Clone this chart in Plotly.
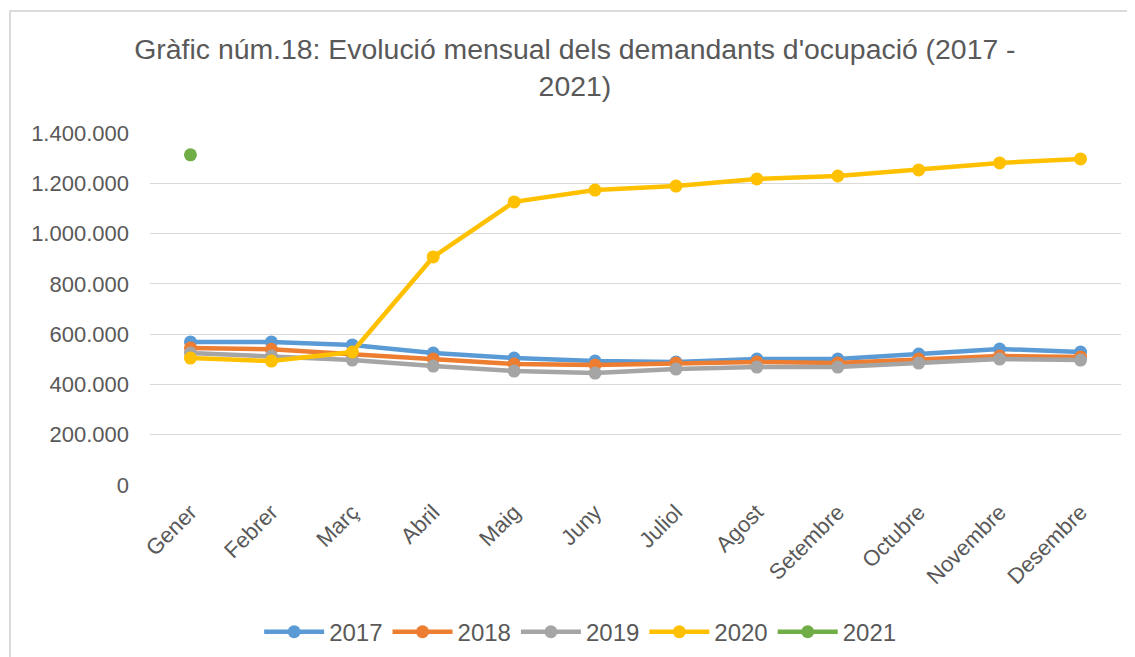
import plotly.graph_objects as go

months = ["Gener", "Febrer", "Març", "Abril", "Maig", "Juny", "Juliol",
          "Agost", "Setembre", "Octubre", "Novembre", "Desembre"]

y2017 = [569000, 569000, 557000, 525000, 505000, 493000, 489000, 501000, 501000, 521000, 541000, 529000]
y2018 = [545000, 540000, 520000, 501000, 481000, 477000, 485000, 489000, 485000, 501000, 513000, 509000]
y2019 = [525000, 513000, 497000, 473000, 453000, 445000, 461000, 469000, 469000, 485000, 501000, 497000]
y2020 = [505000, 493000, 529000, 907000, 1126000, 1173000, 1189000, 1217000, 1229000, 1253000, 1281000, 1297000]
y2021 = [1313000]

series = [
    ("2017", y2017, "#5B9BD5"),
    ("2018", y2018, "#ED7D31"),
    ("2019", y2019, "#A5A5A5"),
    ("2020", y2020, "#FFC000"),
    ("2021", y2021, "#70AD47"),
]

fig = go.Figure()
for name, vals, col in series:
    fig.add_trace(go.Scatter(
        x=months[:len(vals)], y=vals, name=name, mode="lines+markers",
        line=dict(color=col, width=4.5),
        marker=dict(color=col, size=13),
    ))

font_family = "Liberation Sans, Arial, sans-serif"
fig.update_layout(
    width=1135, height=657,
    paper_bgcolor="white", plot_bgcolor="white",
    margin=dict(l=142, r=22, t=125, b=180, autoexpand=False),
    separators=",.",
    font=dict(family=font_family, color="#595959", size=22),
    title=dict(
        text="Gràfic núm.18: Evolució mensual dels demandants d'ocupació (2017 -<br>2021)",
        x=0.4995, xref="container", xanchor="center",
        y=0.922, yref="container", yanchor="top",
        font=dict(family=font_family, size=28.4, color="#595959"),
    ),
    xaxis=dict(
        type="category", categoryorder="array", categoryarray=months,
        range=[-0.5, 11.5], automargin=False,
        tickangle=-45, showgrid=False, zeroline=False, showline=False,
        ticks="", ticklabelstandoff=9, tickfont=dict(size=22, color="#595959"),
    ),
    yaxis=dict(
        range=[0, 1400000], dtick=200000, tickformat=",d", automargin=False,
        showgrid=True, gridcolor="#D9D9D9", gridwidth=1,
        zeroline=False, showline=False, ticks="", ticklabelstandoff=20,
        tickfont=dict(size=22, color="#595959"),
    ),
    legend=dict(
        orientation="h", x=0.443, xanchor="center", y=-0.418, yanchor="middle",
        font=dict(size=24, color="#595959"), itemwidth=60,
        bgcolor="rgba(0,0,0,0)",
    ),
    shapes=[dict(
        type="rect", xref="paper", yref="paper",
        x0=(10 - 150) / 971, x1=1.05, y0=-0.6, y1=(485 - 11) / 352,
        line=dict(color="#D0D0D0", width=1.5), fillcolor="rgba(0,0,0,0)",
        layer="below",
    )],
)

fig.write_html("out.html")
